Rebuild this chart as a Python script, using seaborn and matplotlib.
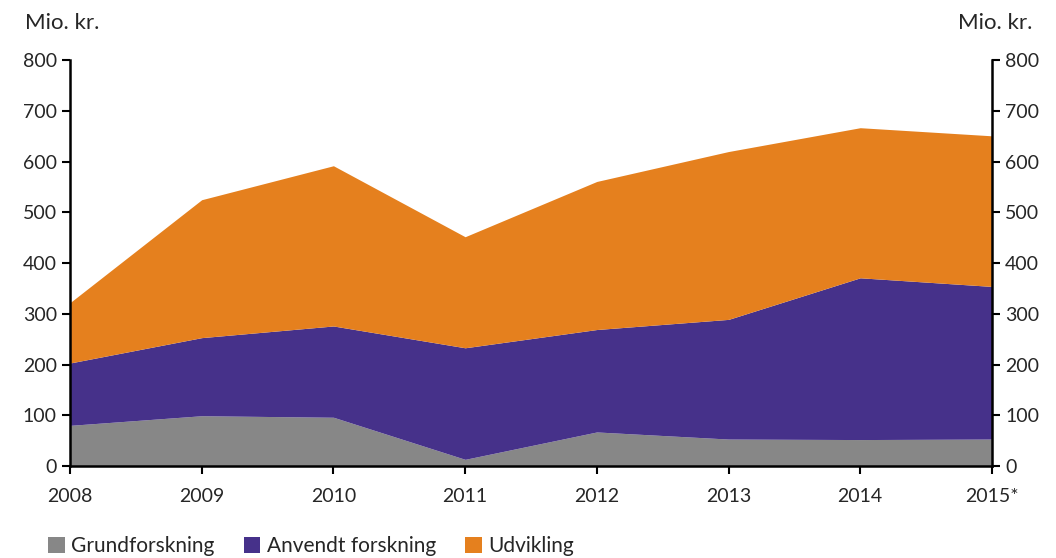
import matplotlib.pyplot as plt
import seaborn as sns
import pandas as pd
from matplotlib.patches import Patch

years = [2008, 2009, 2010, 2011, 2012, 2013, 2014, 2015]
year_labels = ["2008", "2009", "2010", "2011", "2012", "2013", "2014", "2015*"]
grundforskning = [80, 99, 96, 13, 67, 53, 52, 53]
anvendt = [123, 154, 180, 220, 202, 236, 319, 301]
udvikling = [119, 272, 316, 219, 292, 331, 296, 297]
series_names = ["Grundforskning", "Anvendt forskning", "Udvikling"]
colors = ["#878787", "#46318a", "#e5801e"]

df = pd.DataFrame({"year": years, series_names[0]: grundforskning,
                   series_names[1]: anvendt, series_names[2]: udvikling})

sns.set_style("white")
plt.rcParams["font.family"] = ["Lato", "DejaVu Sans"]

fig = plt.figure(figsize=(10.56, 5.58), dpi=100)
ax = fig.add_axes([0.0663, 0.165, 0.873, 0.727])
ax.stackplot(df["year"], [df[c] for c in series_names], colors=colors, linewidth=0)

ax.set_xlim(2008, 2015)
ax.set_ylim(0, 800)
ax.set_xticks(years)
ax.set_xticklabels(year_labels, fontsize=14)
ax.set_yticks(range(0, 801, 100))
ax.tick_params(axis="both", labelsize=14, length=6, width=1.5, direction="out",
               color="black", left=True, bottom=True)
ax.tick_params(axis="x", pad=10)

ax2 = ax.twinx()
ax2.set_ylim(0, 800)
ax2.set_yticks(range(0, 801, 100))
ax2.tick_params(axis="y", labelsize=14, length=6, width=1.5, direction="out",
                color="black", right=True)

for a in (ax, ax2):
    a.spines["top"].set_visible(False)
    for s in ("left", "right", "bottom"):
        a.spines[s].set_linewidth(1.8)
        a.spines[s].set_color("black")
ax.spines["right"].set_visible(False)
ax2.spines["left"].set_visible(False)
ax2.spines["bottom"].set_visible(False)

fig.text(0.024, 0.94, "Mio. kr.", fontsize=16, ha="left", va="bottom")
fig.text(0.978, 0.94, "Mio. kr.", fontsize=16, ha="right", va="bottom")

handles = [Patch(facecolor=c, edgecolor="none") for c in colors]
fig.legend(handles, series_names, loc="lower left", bbox_to_anchor=(0.028, -0.03),
           ncol=3, frameon=False, fontsize=15, handlelength=0.8, handleheight=0.8,
           handletextpad=0.3, columnspacing=1.4)

fig.savefig("out.png", dpi=100)
plt.close(fig)
